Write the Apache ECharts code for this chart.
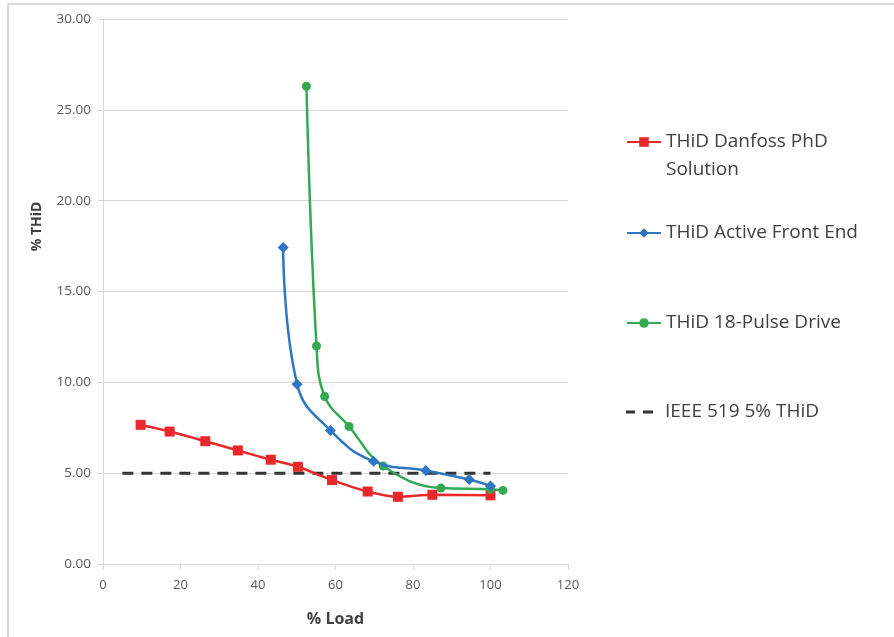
<!DOCTYPE html>
<html>
<head>
<meta charset="utf-8">
<script src="https://cdn.jsdelivr.net/npm/echarts@6/dist/echarts.min.js"></script>
<style>
  html, body { margin: 0; padding: 0; background: #ffffff; }
  #chart { width: 894px; height: 637px; }
</style>
</head>
<body>
<div id="chart"></div>
<script>
// THiD (%) versus load (%) for three drive front-end technologies
const loadDanfoss = [9.7, 17.2, 26.4, 34.8, 43.3, 50.3, 59.1, 68.3, 76.1, 85.0, 100.0];
const thidDanfoss = [7.66, 7.29, 6.76, 6.25, 5.74, 5.35, 4.62, 3.99, 3.70, 3.81, 3.78];

const loadAFE = [46.5, 50.1, 58.7, 69.8, 83.3, 94.5, 100.0];
const thidAFE = [17.42, 9.9, 7.35, 5.65, 5.15, 4.65, 4.3];

const loadPulse = [52.5, 55.1, 57.2, 63.5, 72.3, 87.2, 100.0, 103.2];
const thidPulse = [26.3, 12.0, 9.22, 7.57, 5.39, 4.18, 4.12, 4.05];

// IEEE 519 limit line
const ieeeLoad = [5, 100];
const ieeeLimit = [5, 5];

const seriesNames = [
  'THiD Danfoss PhD Solution',
  'THiD Active Front End',
  'THiD 18-Pulse Drive',
  'IEEE 519 5% THiD'
];

const xTicks = { min: 0, max: 120, interval: 20 };
const yTicks = { min: 0, max: 30, interval: 5 };

const pairs = (xs, ys) => xs.map((x, i) => [x, ys[i]]);

const FONT = '"Open Sans", Lato, sans-serif';
const GRID_COLOR = '#d9d9d9';
const TEXT_COLOR = '#404040';

const chart = echarts.init(document.getElementById('chart'), null, { renderer: 'canvas' });

const legendBase = {
  orient: 'vertical',
  left: 626,
  padding: 0,
  itemWidth: 34,
  itemHeight: 12,
  selectedMode: false,
  textStyle: { fontFamily: FONT, fontSize: 19, color: TEXT_COLOR, lineHeight: 28 }
};

chart.setOption({
  animation: false,
  backgroundColor: '#ffffff',
  graphic: [{
    type: 'rect',
    shape: { x: 8, y: 4, width: 950, height: 700 },
    style: { fill: 'none', stroke: '#d0d0d0', lineWidth: 1.5 },
    silent: true,
    z: -10
  }],
  grid: { left: 103, right: 326, top: 19, bottom: 73, containLabel: false },
  legend: [
    // two-line entry: a blank first line keeps the icon level with "THiD Danfoss PhD"
    Object.assign({}, legendBase, {
      top: 100,
      data: [seriesNames[0]],
      formatter: () => ' \nTHiD Danfoss PhD\nSolution'
    }),
    Object.assign({}, legendBase, { top: 219, data: [seriesNames[1]] }),
    Object.assign({}, legendBase, { top: 309, data: [seriesNames[2]] }),
    // dashed key: two short bars
    Object.assign({}, legendBase, {
      top: 398,
      itemHeight: 3,
      data: [{ name: seriesNames[3], icon: 'path://M0,0H9V3H0Z M17,0H27V3H17Z M34,0V3' }]
    })
  ],
  xAxis: {
    type: 'value',
    min: xTicks.min, max: xTicks.max, interval: xTicks.interval,
    name: '% Load',
    nameLocation: 'middle',
    nameGap: 47,
    nameTextStyle: { fontFamily: FONT, fontSize: 16, fontWeight: 'bold', color: TEXT_COLOR },
    axisLine: { show: true, lineStyle: { color: GRID_COLOR, width: 1 } },
    axisTick: { show: true, inside: false, length: 5, lineStyle: { color: GRID_COLOR } },
    axisLabel: { fontFamily: FONT, fontSize: 13, color: '#595959', margin: 15 },
    splitLine: { show: false }
  },
  yAxis: {
    type: 'value',
    min: yTicks.min, max: yTicks.max, interval: yTicks.interval,
    name: '% THiD',
    nameLocation: 'middle',
    nameGap: 59,
    nameRotate: 90,
    nameTextStyle: { fontFamily: FONT, fontSize: 14, fontWeight: 'bold', color: TEXT_COLOR, padding: [0, 0, 0, 130] },
    axisLine: { show: true, lineStyle: { color: GRID_COLOR, width: 1 } },
    axisTick: { show: true, inside: false, length: 5, lineStyle: { color: GRID_COLOR } },
    axisLabel: { fontFamily: FONT, fontSize: 13.5, color: '#595959', margin: 12, formatter: v => v.toFixed(2) },
    splitLine: { show: true, lineStyle: { color: GRID_COLOR, width: 1 } }
  },
  series: [
    {
      name: seriesNames[0],
      type: 'line',
      data: pairs(loadDanfoss, thidDanfoss),
      smooth: 0.25,
      symbol: 'rect',
      symbolSize: 10,
      color: '#e8282b',
      lineStyle: { width: 2.5, color: '#e8282b' },
      itemStyle: { color: '#e8282b' },
      z: 4
    },
    {
      name: seriesNames[1],
      type: 'line',
      data: pairs(loadAFE, thidAFE),
      smooth: 0.45,
      symbol: 'diamond',
      symbolSize: 11,
      color: '#2e75c2',
      lineStyle: { width: 2.5, color: '#2e75c2' },
      itemStyle: { color: '#2e75c2' },
      z: 5
    },
    {
      name: seriesNames[2],
      type: 'line',
      data: pairs(loadPulse, thidPulse),
      smooth: 0.4,
      symbol: 'circle',
      symbolSize: 9,
      color: '#34a853',
      lineStyle: { width: 2.5, color: '#34a853' },
      itemStyle: { color: '#34a853' },
      z: 4
    },
    {
      name: seriesNames[3],
      type: 'line',
      data: pairs(ieeeLoad, ieeeLimit),
      symbol: 'none',
      color: '#333333',
      itemStyle: { color: '#333333' },
      lineStyle: { width: 3, color: '#333333', type: [11, 8] },
      z: 3
    }
  ]
});
</script>
</body>
</html>
